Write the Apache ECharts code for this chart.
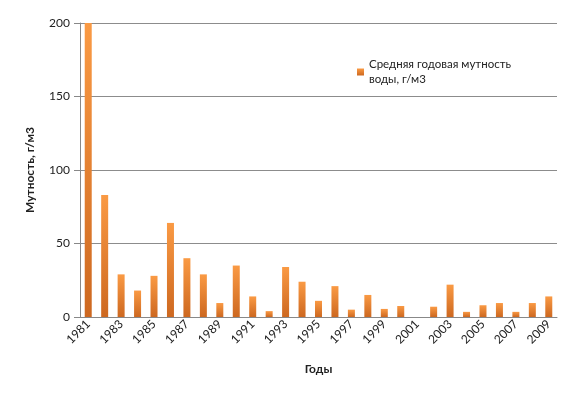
<!DOCTYPE html>
<html><head><meta charset="utf-8">
<script src="https://cdn.jsdelivr.net/npm/echarts@6/dist/echarts.min.js"></script>
<style>html,body{margin:0;padding:0;background:#fff}#c{width:568px;height:395px}</style>
</head><body><div id="c"></div>
<script>
const years = ['1981','1982','1983','1984','1985','1986','1987','1988','1989','1990','1991','1992','1993','1994','1995','1996','1997','1998','1999','2000','2001','2002','2003','2004','2005','2006','2007','2008','2009'];
const turbidity = [200,83,29,18,28,64,40,29,9.5,35,14,4,34,24,11,21,5,15,5.5,7.5,0,7,22,3.5,8,9.5,3.5,9.5,14];
const yTicks = [0,50,100,150,200];
const seriesName = 'Средняя годовая мутность\nводы, г/м3';

const chart = echarts.init(document.getElementById('c'));
const font = 'Lato, "Open Sans", sans-serif';
chart.setOption({
  animation:false,
  textStyle:{fontFamily:font},
  grid:{left:80,right:11,top:23,bottom:78,containLabel:false},
  legend:{left:352,top:52,itemWidth:7,itemHeight:7,icon:'rect',
    textStyle:{fontFamily:font,fontSize:11.5,color:'#222',lineHeight:15},
    data:[seriesName]},
  xAxis:{type:'category',data:years,
    name:'Годы',nameLocation:'middle',nameGap:46,
    nameTextStyle:{fontFamily:font,fontSize:12,fontWeight:'bold',color:'#222'},
    axisLine:{lineStyle:{color:'#888'}},
    axisTick:{show:false},
    axisLabel:{interval:1,rotate:45,fontSize:12,color:'#222',fontFamily:font,margin:5}},
  yAxis:{type:'value',min:yTicks[0],max:yTicks[yTicks.length-1],interval:50,
    name:'Мутность, г/м3',nameLocation:'middle',nameGap:44,
    nameTextStyle:{fontFamily:font,fontSize:12,fontWeight:'bold',color:'#222'},
    axisLine:{show:true,lineStyle:{color:'#888'}},
    axisTick:{show:true,length:6,lineStyle:{color:'#888'}},
    splitLine:{lineStyle:{color:'#8c8c8c'}},
    axisLabel:{fontSize:12,color:'#222',fontFamily:font,margin:10}},
  series:[{type:'bar',name:seriesName,data:turbidity,barWidth:7,
    itemStyle:{color:new echarts.graphic.LinearGradient(0,0,0,1,[{offset:0,color:'#fa9a44'},{offset:1,color:'#cd6820'}])}}]
});
</script></body></html>
